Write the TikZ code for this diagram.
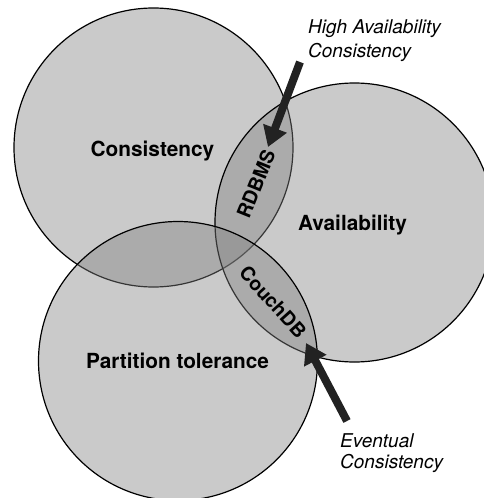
\documentclass[tikz,border=0pt]{standalone}
\usepackage{fontspec}
\setmainfont{TeX Gyre Heros}
\usetikzlibrary{arrows.meta}
\definecolor{arrowc}{HTML}{222222}
\begin{document}
\begin{tikzpicture}[x=1pt,y=-1pt,
  setc/.style={circle, draw=black, line width=1.2pt, fill=black!50, fill opacity=0.42, minimum size=279pt, inner sep=0pt, outer sep=0pt},
  big/.style={font=\bfseries\fontsize{20.8}{25}\selectfont, inner sep=0pt, anchor=base},
  small/.style={font=\bfseries\fontsize{19.5}{23}\selectfont, inner sep=0pt},
  note/.style={font=\itshape\fontsize{19}{23}\selectfont, inner sep=0pt, anchor=base west},
  fat/.style={draw=arrowc, line width=8pt, -{Triangle[length=20pt,width=24pt]}}]
\useasboundingbox (0,0) rectangle (484,498);
\clip (0,0) rectangle (484,498);
\node[setc] (C) at (153.5,147.5) {};
\node[setc] (A) at (354.5,222.5) {};
\node[setc] (P) at (178,361) {};
\node[big] (lc) at (152.5,156) {Consistency};
\node[big] (la) at (352.5,230.5) {Availability};
\node[big] (lp) at (177.5,368) {Partition tolerance};
\node[small, rotate=68] (rd) at (256,184) {RDBMS};
\node[small, rotate=-48] (cd) at (273,302) {CouchDB};
\node[note] (h1) at (308,33) {High Availability};
\node[note] (h2) at (308,57) {Consistency};
\node[note] (e1) at (340,447) {Eventual};
\node[note] (e2) at (340,468) {Consistency};
\coordinate (t1) at (300,62);
\coordinate (p1) at (268,147);
\coordinate (t2) at (347,421);
\coordinate (p2) at (306,343);
\draw[fat] (t1) -- (p1);
\draw[fat] (t2) -- (p2);
\end{tikzpicture}
\end{document}
